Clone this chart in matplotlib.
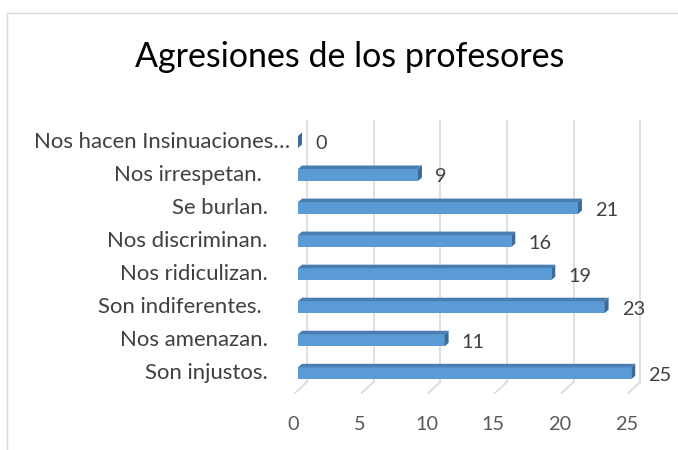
import matplotlib
matplotlib.use("Agg")
import matplotlib.pyplot as plt
from matplotlib.patches import Polygon
from matplotlib.lines import Line2D

categories = ["Son injustos.    ", "Nos amenazan.    ", "Son indiferentes.     ", "Nos ridiculizan.    ",
              "Nos discriminan.    ", "Se burlan.    ", "Nos irrespetan.     ", "Nos hacen Insinuaciones…"]
values = [25, 11, 23, 19, 16, 21, 9, 0]
ticks = [0, 5, 10, 15, 20, 25]
title = "Agresiones de los profesores"

FONT = "Lato"
W, H = 678, 450
fig = plt.figure(figsize=(W / 100, H / 100), dpi=100)

# axes positioned in pixel space
px_per_x = 13.33
y0_px = 373.3
px_per_cat = 33.05
x0_px = 298
left_px, right_px, top_px, bot_px = 280, 660, 110, 400
ax = fig.add_axes([left_px / W, 1 - bot_px / H, (right_px - left_px) / W, (bot_px - top_px) / H])
ax.set_xlim((left_px - x0_px) / px_per_x, (right_px - x0_px) / px_per_x)
ax.set_ylim((y0_px - bot_px) / px_per_cat, (y0_px - top_px) / px_per_cat)
ax.axis("off")

grid_c = "#D9D9D9"
back_dx = 9 / px_per_x
front_dx = -3 / px_per_x
y_back = (y0_px - 382) / px_per_cat
y_front = (y0_px - 393) / px_per_cat
y_top = (y0_px - 121) / px_per_cat
for v in ticks:
    ax.plot([v + back_dx, v + back_dx], [y_back, y_top], color=grid_c, lw=1.2, zorder=1)
    ax.plot([v + back_dx, v + front_dx], [y_back, y_front], color=grid_c, lw=1.2, zorder=1)
    ax.text(v - 0.35, (y0_px - 424) / px_per_cat, str(v), ha="center", va="center",
            fontsize=14.3, color="#595959", family=FONT, clip_on=False)

bh = 12 / px_per_cat
dx = 4 / px_per_x
dy = 3.5 / px_per_cat
front_c = "#5B9BD5"
top_c = "#4A7DB0"
side_c = "#3E6A96"
ys = list(range(len(values)))
ax.barh(ys, values, height=bh, color=front_c, zorder=3)
for y, v in zip(ys, values):
    yt, yb = y + bh / 2, y - bh / 2
    ax.add_patch(Polygon([(0, yt), (dx, yt + dy), (v + dx, yt + dy), (v, yt)],
                         closed=True, fc=top_c, ec="none", zorder=3))
    ax.add_patch(Polygon([(v, yb), (v, yt), (v + dx, yt + dy), (v + dx, yb + dy)],
                         closed=True, fc=side_c, ec="none", zorder=3))
    ax.text(v + 17 / px_per_x, y - 0.06, str(v), ha="left", va="center",
            fontsize=14.3, color="#404040", family=FONT, clip_on=False)
    ax.text((290 - x0_px) / px_per_x, y, categories[y], ha="right", va="center",
            fontsize=15.9, color="#404040", family=FONT, clip_on=False)

fig.text(350 / W, 1 - 67 / H, title, ha="center", va="baseline", fontsize=24.5,
         color="#000000", family=FONT)

# chart border
fig.add_artist(Line2D([7 / W, 7 / W], [0, 1 - 13 / H], color="#D9D9D9", lw=1.0,
                      transform=fig.transFigure))
fig.add_artist(Line2D([7 / W, 1], [1 - 13 / H, 1 - 13 / H], color="#D9D9D9", lw=1.0,
                      transform=fig.transFigure))

fig.savefig("out.png", dpi=100, facecolor="white")
